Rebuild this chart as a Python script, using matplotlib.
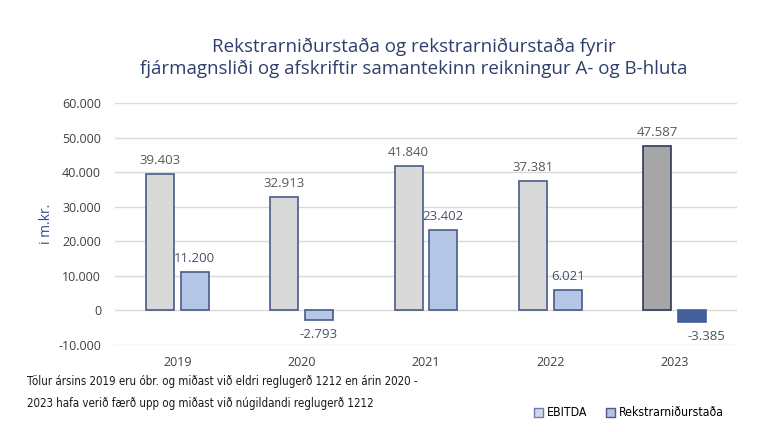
import matplotlib
matplotlib.use("Agg")
import matplotlib.pyplot as plt
import numpy as np
from matplotlib.patches import Patch

years = ["2019", "2020", "2021", "2022", "2023"]
ebitda = [39403, 32913, 41840, 37381, 47587]
rekstrar = [11200, -2793, 23402, 6021, -3385]
ebitda_labels = ["39.403", "32.913", "41.840", "37.381", "47.587"]
rekstrar_labels = ["11.200", "-2.793", "23.402", "6.021", "-3.385"]
yticks = [-10000, 0, 10000, 20000, 30000, 40000, 50000, 60000]
ytick_labels = ["-10.000", "0", "10.000", "20.000", "30.000", "40.000", "50.000", "60.000"]

title = "Rekstrarniðurstaða og rekstrarniðurstaða fyrir\nfjármagnsliði og afskriftir samantekinn reikningur A- og B-hluta"
footnote = ("Tölur ársins 2019 eru óbr. og miðast við eldri reglugerð 1212 en árin 2020 -\n"
            "2023 hafa verið færð upp og miðast við núgildandi reglugerð 1212")

plt.rcParams['font.family'] = ['Open Sans', 'DejaVu Sans']

fig = plt.figure(figsize=(7.68, 4.32), dpi=100)
ax = fig.add_axes([115/768, 1-345/432, 622/768, 242/432])

x = np.arange(len(years))
w = 0.225
off = 0.14
edge = "#4a5a8a"
e_fc = ["#d9d9d9"] * 4 + ["#a6a6a6"]
r_fc = ["#b4c7e7"] * 4 + ["#44609a"]
e_ec = [edge] * 4 + ["#2e3a5c"]
r_ec = [edge] * 4 + ["#44609a"]

ax.bar(x - off, ebitda, w, color=e_fc, edgecolor=e_ec, linewidth=1.2, zorder=3)
ax.bar(x + off, rekstrar, w, color=r_fc, edgecolor=r_ec, linewidth=1.2, zorder=3)

for i in range(len(years)):
    ax.annotate(ebitda_labels[i], (x[i] - off, ebitda[i]), xytext=(0, 5),
                textcoords="offset points", ha="center", va="bottom",
                fontsize=9.5, color="#595959")
    v = rekstrar[i]
    if v >= 0:
        ax.annotate(rekstrar_labels[i], (x[i] + off, v), xytext=(0, 5),
                    textcoords="offset points", ha="center", va="bottom",
                    fontsize=9.5, color="#44546a")
    else:
        dx = 10 if i == 4 else 0
        ax.annotate(rekstrar_labels[i], (x[i] + off, v), xytext=(dx, -6),
                    textcoords="offset points", ha="center", va="top",
                    fontsize=9.5, color="#44546a")

ax.set_xlim(-0.5, len(years) - 0.5)
ax.set_ylim(-10000, 60000)
ax.set_yticks(yticks)
ax.set_yticklabels(ytick_labels)
ax.set_xticks(x)
ax.set_xticklabels(years)
ax.tick_params(axis="y", length=0, pad=10, labelsize=9, labelcolor="#404040")
ax.tick_params(axis="x", length=0, pad=8, labelsize=9, labelcolor="#404040")
ax.grid(axis="y", color="#d9d9d9", linewidth=1, zorder=0)
for s in ax.spines.values():
    s.set_visible(False)
ax.set_ylabel("i m.kr.", color="#2f4b8a", fontsize=10, labelpad=3)

fig.text(414/768, 1-38/432, title, ha="center", va="top", fontsize=13.5,
         color="#2f3f6b", linespacing=1.25)

fig.text(27/768, 1-375/432, footnote, ha="left", va="top", fontsize=8.3,
         color="#1a1a1a", linespacing=1.95,
         family="DejaVu Sans", stretch="condensed")

handles = [Patch(facecolor="#d0d6e4", edgecolor="#6b7bab", linewidth=1),
           Patch(facecolor="#b4c2e0", edgecolor="#4a5a8a", linewidth=1)]
fig.legend(handles, ["EBITDA", "Rekstrarniðurstaða"], loc="center right",
           bbox_to_anchor=(729/768, 1-413/432), ncol=2, frameon=False,
           prop={"family": "DejaVu Sans", "stretch": "condensed", "size": 8.8},
           handlelength=0.8, handleheight=0.8, handletextpad=0.3,
           columnspacing=1.5, borderaxespad=0)

fig.savefig("out.png", dpi=100)
